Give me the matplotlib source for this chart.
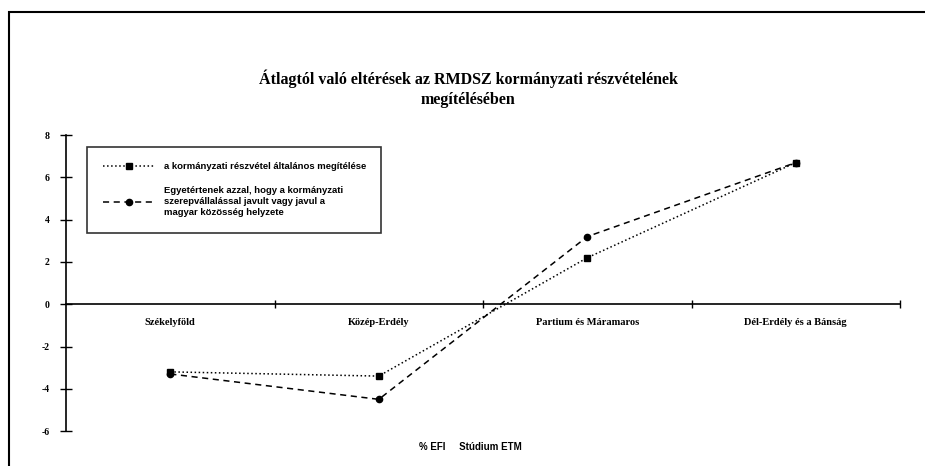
import matplotlib.pyplot as plt
from matplotlib.patches import Rectangle

# adatok
regiok = ["Székelyföld", "Közép-Erdély", "Partium és Máramaros", "Dél-Erdély és a Bánság"]
reszvetel = [-3.2, -3.4, 2.2, 6.7]
egyetert = [-3.3, -4.5, 3.2, 6.7]
nev1 = "a kormányzati részvétel általános megítélése"
nev2 = ("Egyetértenek azzal, hogy a kormányzati\n"
        "szerepvállalással javult vagy javul a\n"
        "magyar közösség helyzete")
cim = "Átlagtól való eltérések az RMDSZ kormányzati részvételének\nmegítélésében"
forras = "% EFI     Stúdium ETM"
yticks = [-6, -4, -2, 0, 2, 4, 6, 8]

fig = plt.figure(figsize=(9.25, 4.66), dpi=100)
ax = fig.add_axes([0.0714, 0.075, 0.9016, 0.635])

x = list(range(len(regiok)))
ax.plot(x, reszvetel, color="black", linestyle=":", linewidth=1.1,
        marker="s", markersize=4, label=nev1)
ax.plot(x, egyetert, color="black", linestyle="--", linewidth=1.1,
        dashes=(4, 3), marker="o", markersize=4.5, label=nev2)

ax.set_xlim(-0.5, 3.5)
ax.set_ylim(-6, 8)
ax.set_yticks(yticks)
ax.set_yticklabels([str(v) for v in yticks], fontsize=7, fontweight="bold",
                   family="Liberation Serif")
ax.tick_params(axis="y", direction="inout", length=8, width=1, pad=8)

ax.spines["top"].set_visible(False)
ax.spines["right"].set_visible(False)
ax.spines["bottom"].set_position(("data", 0))
ax.spines["left"].set_linewidth(1.2)
ax.spines["bottom"].set_linewidth(1.2)

# kategóriahatárok a nulla vonalon
ax.set_xticks([0.5, 1.5, 2.5, 3.5])
ax.set_xticklabels([])
ax.tick_params(axis="x", direction="inout", length=6, width=1)
for i, r in enumerate(regiok):
    ax.text(i, -0.85, r, ha="center", va="center", fontsize=7.5,
            fontweight="bold", family="Liberation Serif")

leg = ax.legend(loc="upper left", bbox_to_anchor=(0.02, 0.975),
                prop={"family": "Liberation Sans", "size": 6.8, "weight": "bold"},
                frameon=True, fancybox=False, edgecolor="black",
                borderpad=1.6, labelspacing=1.5, handlelength=5.5,
                handletextpad=1.0)
leg.get_frame().set_linewidth(1.2)
for t in leg.get_texts():
    t.set_linespacing(1.35)

fig.text(0.506, 0.81, cim, ha="center", va="center", fontsize=11.5,
         fontweight="bold", family="Liberation Serif", linespacing=1.3)
fig.text(0.508, 0.04, forras, ha="center", va="center", fontsize=7,
         fontweight="bold", family="Liberation Sans")

# keret
fig.patches.append(Rectangle((0.01, -0.02), 1.0, 0.995, transform=fig.transFigure,
                             fill=False, edgecolor="black", linewidth=1.5))

fig.savefig("out.png", dpi=100)
